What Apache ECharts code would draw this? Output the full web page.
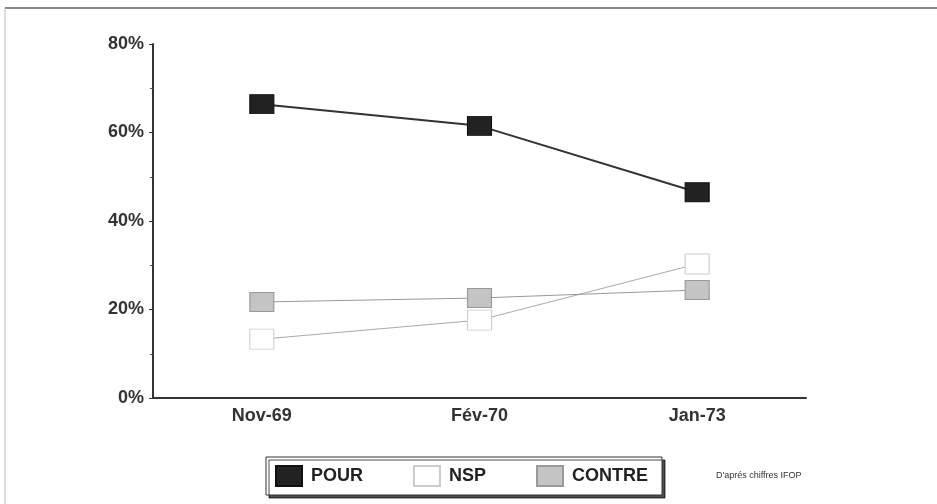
<!DOCTYPE html>
<html><head><meta charset="utf-8">
<script src="https://cdn.jsdelivr.net/npm/echarts@6/dist/echarts.min.js"></script>
<style>html,body{margin:0;padding:0;background:#fff}#c{width:937px;height:504px}</style>
</head><body><div id="c"></div>
<script>
const categories = ['Nov-69', 'Fév-70', 'Jan-73'];
const pour = [66.4, 61.5, 46.5];
const nsp = [13.3, 17.6, 30.3];
const contre = [21.7, 22.6, 24.4];
const yTicks = [0, 20, 40, 60, 80];
const source = "D'aprés chiffres IFOP";

const chart = echarts.init(document.getElementById('c'));
const font = 'Liberation Sans, Arial, sans-serif';
chart.setOption({
  animation: false,
  backgroundColor: '#fff',
  grid: {left: 153, right: 131, top: 44, bottom: 106},
  xAxis: {
    type: 'category', data: categories, boundaryGap: true,
    axisLine: {lineStyle: {color: '#333', width: 2}},
    axisTick: {show: false},
    axisLabel: {color: '#333', fontFamily: font, fontWeight: 'bold', fontSize: 18, margin: 9}
  },
  yAxis: {
    type: 'value', min: yTicks[0], max: yTicks[yTicks.length - 1], interval: 20,
    axisLine: {show: true, lineStyle: {color: '#333', width: 2}},
    axisTick: {show: true, length: 4, lineStyle: {color: '#333'}},
    minorTick: {show: true, splitNumber: 2, length: 3, lineStyle: {color: '#555'}},
    splitLine: {show: false},
    axisLabel: {color: '#333', fontFamily: font, fontWeight: 'bold', fontSize: 18, margin: 9, formatter: '{value}%'}
  },
  legend: {
    left: 266, top: 457,
    padding: [8, 14, 8, 9], itemGap: 50, itemWidth: 26, itemHeight: 20,
    borderColor: '#333', borderWidth: 1, backgroundColor: '#fff',
    shadowColor: 'rgba(0,0,0,0.7)', shadowOffsetX: 3, shadowOffsetY: 3, shadowBlur: 0,
    textStyle: {color: '#222', fontFamily: font, fontWeight: 'bold', fontSize: 18, padding: [0, 0, 0, 4]},
    data: [{name: 'POUR', icon: 'rect'}, {name: 'NSP', icon: 'rect'}, {name: 'CONTRE', icon: 'rect'}]
  },
  graphic: [
    {type: 'line', shape: {x1: 5, y1: 8, x2: 937, y2: 8}, style: {stroke: '#888', lineWidth: 2}},
    {type: 'line', shape: {x1: 5, y1: 8, x2: 5, y2: 504}, style: {stroke: '#bbb', lineWidth: 1}},
    {type: 'text', left: 716, top: 471, style: {text: source, fill: '#333', font: '9px ' + font}}
  ],
  series: [
    {name: 'POUR', type: 'line', data: pour, symbol: 'rect', symbolSize: [24, 19],
      lineStyle: {color: '#333', width: 2},
      itemStyle: {color: '#222', borderColor: '#111', borderWidth: 1}, z: 5},
    {name: 'NSP', type: 'line', data: nsp, symbol: 'rect', symbolSize: [24, 20],
      lineStyle: {color: '#aaa', width: 1},
      itemStyle: {color: '#fff', borderColor: '#ccc', borderWidth: 1}, z: 3},
    {name: 'CONTRE', type: 'line', data: contre, symbol: 'rect', symbolSize: [24, 19],
      lineStyle: {color: '#999', width: 1},
      itemStyle: {color: '#c4c4c4', borderColor: '#999', borderWidth: 1}, z: 4}
  ]
});
</script></body></html>
